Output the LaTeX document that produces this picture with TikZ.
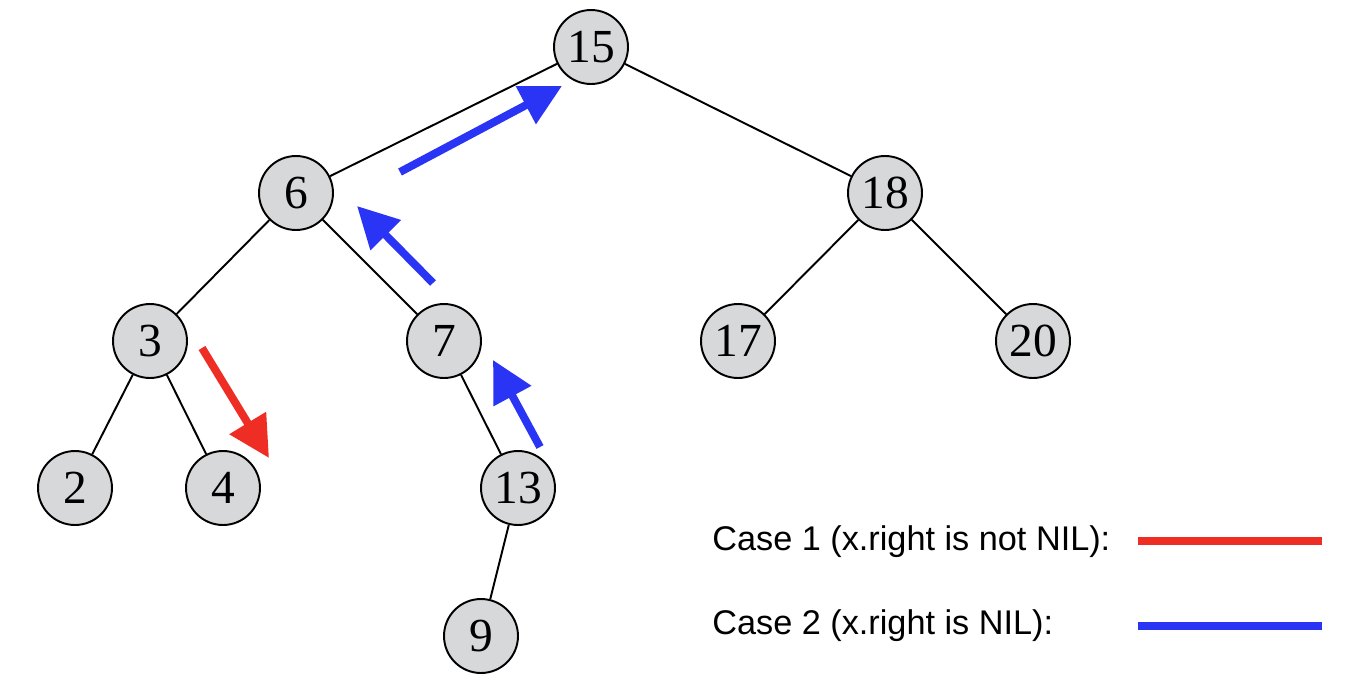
\documentclass[tikz,border=0pt]{standalone}
\usepackage{fontspec}
\setmainfont{Liberation Serif}
\newfontfamily\legendfont{Liberation Sans}
\usetikzlibrary{arrows.meta}

\definecolor{keygray}{RGB}{215,216,218}
\definecolor{caseblue}{RGB}{42,52,245}
\definecolor{casered}{RGB}{238,45,36}

\begin{document}
\begin{tikzpicture}[x=0.02cm, y=-0.02cm,
key/.style={circle, draw=black, line width=1.1pt, fill=keygray, minimum size=1.48cm, inner sep=0pt, font=\fontsize{27}{27}\selectfont},
branch/.style={line width=1.1pt},
move/.style={line width=4.5pt, -{Triangle[length=0.82cm, width=0.82cm]}},
legend/.style={anchor=west, inner sep=0pt, font=\legendfont\fontsize{19.5}{22}\selectfont},]

\useasboundingbox (0,0) rectangle (1370,693);

\node[key] (K15) at (591,47)  {15};
\node[key] (K6)  at (296,193) {6};
\node[key] (K18) at (885,193) {18};
\node[key] (K3)  at (150,341) {3};
\node[key] (K7)  at (444,341) {7};
\node[key] (K17) at (738,341) {17};
\node[key] (K20) at (1033,341) {20};
\node[key] (K2)  at (75,488)  {2};
\node[key] (K4)  at (223,488) {4};
\node[key] (K13) at (518,488) {13};
\node[key] (K9)  at (481,636) {9};

\draw[branch] (K15) -- (K6);
\draw[branch] (K15) -- (K18);
\draw[branch] (K6) -- (K3);
\draw[branch] (K6) -- (K7);
\draw[branch] (K18) -- (K17);
\draw[branch] (K18) -- (K20);
\draw[branch] (K3) -- (K2);
\draw[branch] (K3) -- (K4);
\draw[branch] (K7) -- (K13);
\draw[branch] (K13) -- (K9);

% successor moves
\coordinate (R1_s) at (202,348);
\coordinate (R1_e) at (269,458);
\coordinate (B1_s) at (540,447);
\coordinate (B1_e) at (493,360);
\coordinate (B2_s) at (433,283);
\coordinate (B2_e) at (357,206);
\coordinate (B3_s) at (400,172);
\coordinate (B3_e) at (562,86);

\draw[move, casered] (R1_s) -- (R1_e);
\draw[move, caseblue] (B1_s) -- (B1_e);
\draw[move, caseblue] (B2_s) -- (B2_e);
\draw[move, caseblue] (B3_s) -- (B3_e);

% legend
\node[legend] (L1) at (712,542) {Case 1 (x.right is not NIL):};
\node[legend] (L2) at (712,626) {Case 2 (x.right is NIL):};
\coordinate (L1_s) at (1138,541);
\coordinate (L1_e) at (1322,541);
\coordinate (L2_s) at (1138,626);
\coordinate (L2_e) at (1322,626);
\draw[line width=4.5pt, casered] (L1_s) -- (L1_e);
\draw[line width=4.5pt, caseblue] (L2_s) -- (L2_e);

\end{tikzpicture}
\end{document}
